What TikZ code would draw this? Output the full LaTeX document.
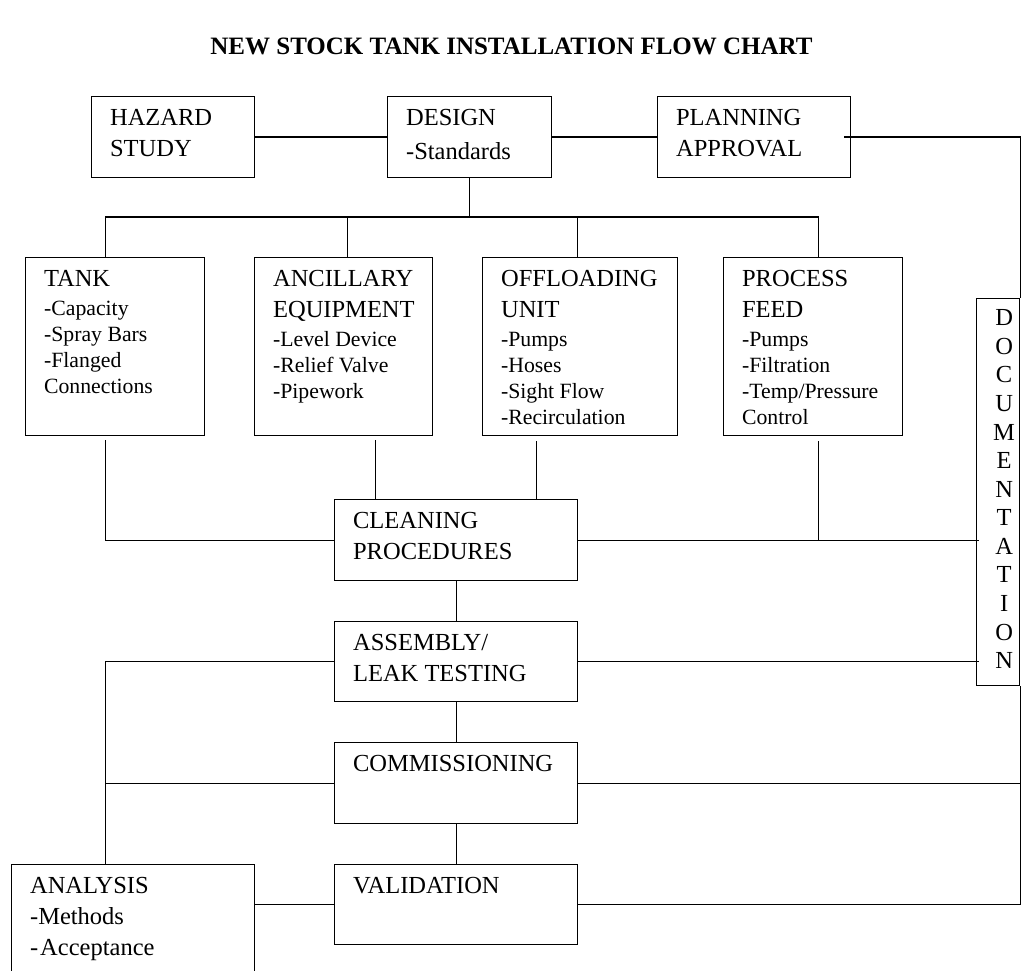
\documentclass[tikz,border=0pt]{standalone}
\usepackage{fontspec}
\setmainfont{Liberation Serif}
\usepackage{tikz}

\newcommand{\headfont}{\fontsize{24.5}{31}\selectfont}
\newcommand{\itemfont}{\par\vspace{3pt}\fontsize{21.75}{26}\selectfont}
\newcommand{\stagetext}[3]{\parbox[t][#2pt][t]{#1pt}{\raggedright\leftskip=18.5pt\headfont\rule{0pt}{28.5pt}#3}}

\begin{document}
\begin{tikzpicture}[x=1pt, y=-1pt,
  stage/.style={draw, line width=1.2pt, inner sep=0pt, anchor=north west},
  link/.style={line width=1.2pt}]

  \useasboundingbox (0,0) rectangle (1021,971);

  \node [anchor=base] (title) at (511.5,55) {\fontsize{25}{29}\selectfont\bfseries NEW STOCK TANK INSTALLATION FLOW CHART};

  \node [stage] (hazard) at (91,96) {\stagetext{163}{81}{HAZARD\\STUDY}};
  \node [stage] (design) at (387,96) {\stagetext{164}{81}{DESIGN\itemfont\fontsize{24.5}{31}\selectfont -Standards}};
  \node [stage] (planning) at (657,96) {\stagetext{193}{81}{PLANNING\\APPROVAL}};

  \node [stage] (tank) at (25,257) {\stagetext{179}{178}{TANK\itemfont -Capacity\\-Spray Bars\\-Flanged\\Connections}};
  \node [stage] (ancillary) at (254,257) {\stagetext{178}{178}{ANCILLARY\\EQUIPMENT\itemfont -Level Device\\-Relief Valve\\-Pipework}};
  \node [stage] (offloading) at (482,257) {\stagetext{195}{178}{OFFLOADING\\UNIT\itemfont -Pumps\\-Hoses\\-Sight Flow\\-Recirculation}};
  \node [stage] (feed) at (723,257) {\stagetext{179}{178}{PROCESS\\FEED\itemfont -Pumps\\-Filtration\\-Temp/Pressure\\Control}};

  \node [stage] (cleaning) at (334,499) {\stagetext{243}{81}{CLEANING\\PROCEDURES}};
  \node [stage] (assembly) at (334,621) {\stagetext{243}{80}{ASSEMBLY/\\LEAK TESTING}};
  \node [stage] (commissioning) at (334,742) {\stagetext{243}{81}{COMMISSIONING}};
  \node [stage] (validation) at (334,864) {\stagetext{243}{80}{VALIDATION}};
  \node [stage] (analysis) at (11,864) {\stagetext{243}{130}{ANALYSIS\\-Methods\\-\kern2pt Acceptance}};

  \node [stage] (documentation) at (976,298) {\parbox[t][387pt][t]{43pt}{\fontsize{24.5}{28.6}\selectfont\centering\leftskip=12pt plus 1fil\rule{0pt}{27pt}D\\O\\C\\U\\M\\E\\N\\T\\A\\T\\I\\O\\N}};

  \draw [link] (hazard.east) -- (design.west);
  \draw [link] (design.east) -- (planning.west);
  \draw [link] ([xshift=-7pt]planning.east) -| (documentation.north east);

  \draw [link] (design.south) -- ++(0,40);
  \draw [link] ([xshift=-9.5pt]tank.north) -- ++(0,-40) -- ++(713,0);
  \draw [link] ([xshift=4pt]ancillary.north) -- ++(0,-40);
  \draw [link] ([xshift=-2.5pt]offloading.north) -- ++(0,-40);
  \draw [link] ([xshift=5.5pt]feed.north) -- ++(0,-40);

  \draw [link] ([xshift=-9.5pt,yshift=-4pt]tank.south) |- (cleaning.west);
  \draw [link] ([xshift=32pt,yshift=-4pt]ancillary.south) -- ++(0,60);
  \draw [link] ([xshift=-43.5pt,yshift=-5pt]offloading.south) -- ++(0,59);
  \draw [link] ([xshift=5.5pt,yshift=-5pt]feed.south) -- ++(0,99);
  \draw [link] (cleaning.east) -- (cleaning.east -| documentation.west) -- ++(3,0);

  \draw [link] (cleaning.south) -- (assembly.north);
  \draw [link] (assembly.south) -- (commissioning.north);
  \draw [link] (commissioning.south) -- (validation.north);

  \draw [link] (assembly.east) -- (assembly.east -| documentation.west) -- ++(3,0);
  \draw [link] (assembly.west) -| ([xshift=-27.5pt]analysis.north);
  \draw [link] (commissioning.west) -- ++(-229,0);
  \draw [link] (commissioning.east) -- (commissioning.east -| documentation.east);
  \draw [link] (documentation.south east) |- (validation.east);
  \draw [link] (validation.west) -- (validation.west -| analysis.east);

\end{tikzpicture}
\end{document}
